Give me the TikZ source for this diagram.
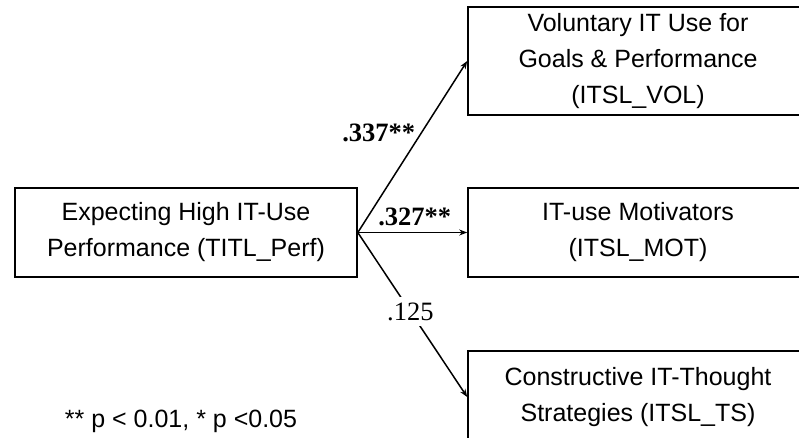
\documentclass[tikz,border=0pt]{standalone}
\usepackage{fontspec}
\setmainfont{Liberation Sans}
\newfontfamily\coeffont{Liberation Serif}
\usetikzlibrary{arrows.meta}

\begin{document}
\begin{tikzpicture}[x=1pt, y=-1pt,
    var/.style={draw, line width=1.6pt, minimum width=340pt, minimum height=89pt,
      align=center, font=\fontsize{25}{36}\selectfont},
    effect/.style={-{Stealth[length=8pt,width=6pt]}, line width=1.5pt},
    coef/.style={font=\coeffont\fontsize{26.5}{30}\selectfont}]
        \useasboundingbox (0,0) rectangle (799,437);

        \node[var, minimum width=342pt] (perf) at (186,232.5) {Expecting High IT-Use\\Performance (TITL\_Perf)};
        \node[var, minimum height=108pt] (vol) at (638,61) {Voluntary IT Use for\\Goals \& Performance\\(ITSL\_VOL)};
        \node[var] (mot) at (638,232.5) {IT-use Motivators\\(ITSL\_MOT)};
        \node[var, minimum height=92pt] (ts) at (638,397) {Constructive IT-Thought\\Strategies (ITSL\_TS)};

        \draw[effect] (perf.east) -- node[coef, left, pos=0.58, xshift=-2pt] {\bfseries .337**} (vol.west);
        \draw[effect] (perf.east) -- node[coef, above, pos=0.52, yshift=3pt] {\bfseries .327**} (mot.west);
        \draw[effect] (perf.east) -- node[coef, fill=white, inner sep=6pt, pos=0.48] {.125} (ts.west);

        \node[font=\fontsize{25}{30}\selectfont] (note) at (181,421) {** p < 0.01, * p <0.05};
\end{tikzpicture}
\end{document}
